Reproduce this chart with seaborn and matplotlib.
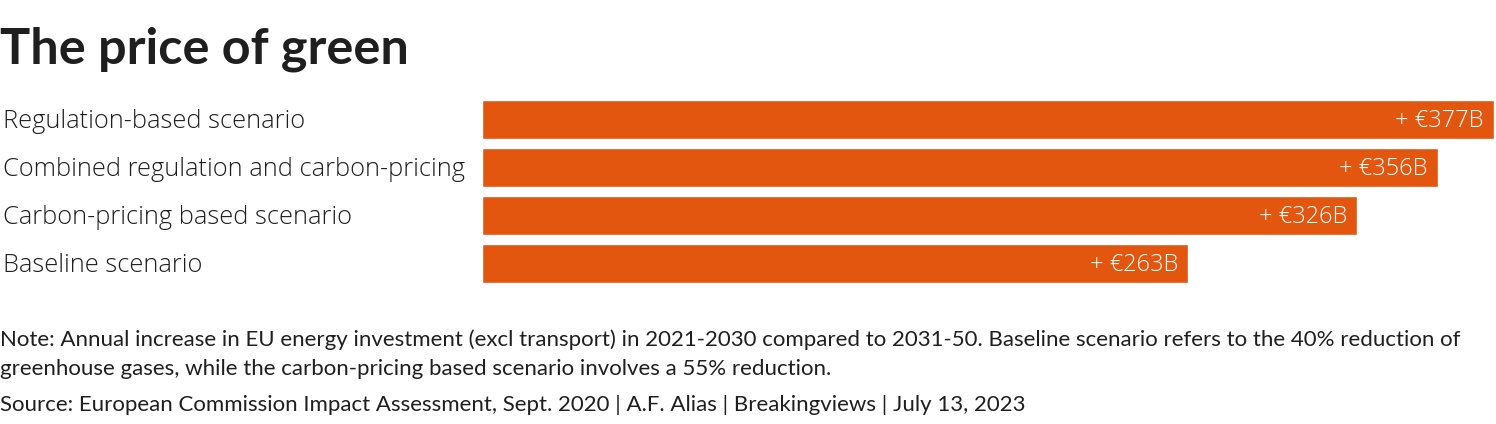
import matplotlib
matplotlib.use("Agg")
import matplotlib.pyplot as plt
import seaborn as sns
import pandas as pd

categories = ["Regulation-based scenario",
              "Combined regulation and carbon-pricing",
              "Carbon-pricing based scenario",
              "Baseline scenario"]
values = [377, 356, 326, 263]
value_labels = ["+ €377B", "+ €356B", "+ €326B", "+ €263B"]

title = "The price of green"
note_lines = ["Note: Annual increase in EU energy investment (excl transport) in 2021-2030 compared to 2031-50. "
              "Baseline scenario refers to the 40% reduction of",
              "greenhouse gases, while the carbon-pricing based scenario involves a 55% reduction."]
source = "Source: European Commission Impact Assessment, Sept. 2020 | A.F. Alias | Breakingviews | July 13, 2023"

sns.set_theme(style="white")
plt.rcParams['font.family'] = ['Lato', 'DejaVu Sans']

BAR = "#E3560F"
TXT = "#1f1f1f"
LIGHT = ['Open Sans', 'DejaVu Sans']

df = pd.DataFrame({"scenario": categories, "value": values})

fig = plt.figure(figsize=(14.96, 4.24), dpi=100)
ax = fig.add_axes([482/1496, 1-283/424, 1012/1496, 183/424])
sns.barplot(data=df, y="scenario", x="value", orient="h", color=BAR,
            saturation=1, width=0.81, ax=ax)
ax.set_xlim(0, max(values))
ax.set_ylim(len(values)-1+0.405, -0.405)
ax.set_xlabel("")
ax.set_ylabel("")
ax.set_xticks([])
ax.set_yticks([])
for s in ax.spines.values():
    s.set_visible(False)

for i, (v, lab) in enumerate(zip(values, value_labels)):
    ax.text(v - 3.8, i + 0.04, lab, ha="right", va="center", color="white",
            fontsize=17, fontweight=300, family=LIGHT)

for i, c in enumerate(categories):
    y = 1 - (121 + 48*i)/424
    fig.text(3/1496, y, c, ha="left", va="center", color=TXT,
             fontsize=18.3, fontweight=300, family=LIGHT)

fig.text(0/1496, 1-49/424, title, ha="left", va="center", color=TXT,
         fontsize=36.3, fontweight="bold")
for j, ln in enumerate(note_lines):
    fig.text(0/1496, 1-(340 + 29*j)/424, ln, ha="left", va="center", color=TXT,
             fontsize=16)
fig.text(0/1496, 1-405/424, source, ha="left", va="center", color=TXT,
         fontsize=16)

fig.savefig("out.png", dpi=100, facecolor="white")
